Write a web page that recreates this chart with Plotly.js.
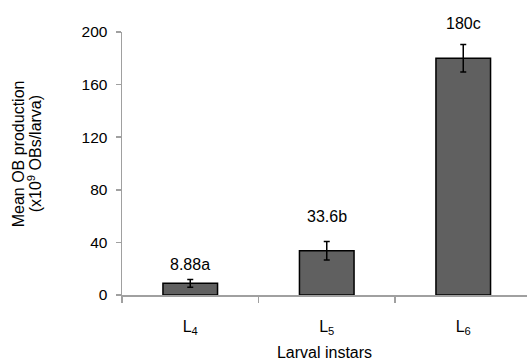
<!DOCTYPE html>
<html><head><meta charset="utf-8">
<script src="https://cdn.plot.ly/plotly-3.0.1.min.js"></script>
<style>html,body{margin:0;padding:0;background:#fff;}</style>
</head><body>
<div id="chart" style="width:527px;height:362px;"></div>
<script>
const categories = ["L<sub>4</sub>", "L<sub>5</sub>", "L<sub>6</sub>"];
const meanValues = [8.88, 33.6, 180];
const errorValues = [3, 7, 10.5];
const barLabels = ["8.88a", "33.6b", "180c"];
const labelShifts = [4, 15, 10];
const yTicks = [0, 40, 80, 120, 160, 200];
const yTitleLines = ["Mean OB production", "(x10<sup>9</sup> OBs/larva)"];

const font = "Liberation Sans, Arial, sans-serif";
const trace = {
  type: "bar", x: categories, y: meanValues, width: 0.4,
  marker: {color: "#606060", line: {color: "#000", width: 1.5}},
  error_y: {type: "data", array: errorValues, visible: true, color: "#000", thickness: 1.5, width: 3},
  hoverinfo: "none"
};
const annotations = categories.map((c, i) => ({
  x: c, y: meanValues[i] + errorValues[i], xref: "x", yref: "y",
  text: barLabels[i], showarrow: false, yanchor: "bottom", yshift: labelShifts[i],
  font: {family: font, size: 16, color: "#000"}
}));
const titleX = [18, 35];
yTitleLines.forEach((t, i) => annotations.push({
  xref: "paper", yref: "paper", x: 0, y: 0.535, xshift: titleX[i] - 122, textangle: -90,
  xanchor: "center", yanchor: "middle",
  text: t, showarrow: false,
  font: {family: font, size: 16, color: "#000"}
}));
const layout = {
  width: 527, height: 362,
  margin: {l: 122, r: 0, t: 32, b: 67},
  paper_bgcolor: "#fff", plot_bgcolor: "#fff",
  showlegend: false,
  font: {family: font, size: 16, color: "#000"},
  xaxis: {
    type: "category", range: [-0.5, 2.467], tickson: "boundaries",
    showline: true, linecolor: "#a0a0a0", linewidth: 1.5,
    ticks: "outside", ticklen: 6, tickcolor: "#a0a0a0", tickwidth: 1.5,
    showgrid: false, zeroline: false, ticklabelstandoff: 16,
    tickfont: {family: font, size: 16},
    title: {text: "Larval instars", font: {family: font, size: 16}, standoff: 10}
  },
  yaxis: {
    range: [0, 200], tickvals: yTicks, ticktext: yTicks.map(String),
    showline: true, linecolor: "#a0a0a0", linewidth: 1.5,
    ticks: "outside", ticklen: 5, tickcolor: "#a0a0a0", tickwidth: 1.5,
    showgrid: false, zeroline: false, ticklabelstandoff: 5,
    tickfont: {family: font, size: 15.5}
  },
  annotations: annotations
};
Plotly.newPlot("chart", [trace], layout, {displayModeBar: false, staticPlot: true});
</script>
</body></html>
